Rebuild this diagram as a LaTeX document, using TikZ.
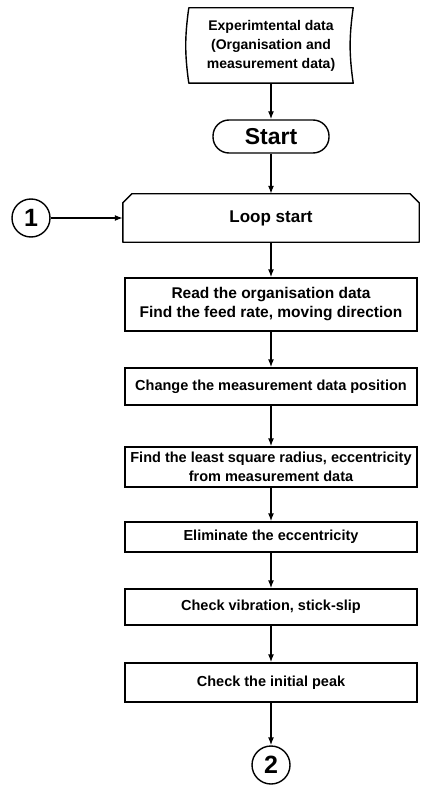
\documentclass[tikz,border=0pt]{standalone}
\usepackage{fontspec}
\setmainfont{Liberation Sans}
\usepackage{tikz}
\usetikzlibrary{arrows.meta}
\tikzset{box/.style = {shape = rectangle, draw, line width = 1.4pt, minimum width = 292pt, align = center, inner sep = 0pt, font = \fontsize{14.5}{19}\selectfont\bfseries}}
\tikzset{conn/.style = {-{Latex[length = 8pt, width = 6pt]}, line width = 1.4pt}}
\tikzset{connector/.style = {shape = circle, draw, line width = 1.4pt, minimum size = 38pt, inner sep = 0pt, font = \fontsize{25}{25}\selectfont\bfseries}}
\tikzset{outline/.style = {line width = 1.4pt, line join = round}}

\begin{document}
\begin{tikzpicture}[x = 1pt, y = -1pt]
	\useasboundingbox (0, 0) rectangle (421, 786);

	\node[align = center, minimum width = 164pt, minimum height = 75pt, font = \fontsize{14}{19}\selectfont\bfseries] (data) at (271, 45.5) {Experimtental data\\(Organisation and\\measurement data)};
	\draw[outline] (data.north west) to[bend right = 8] (data.south west) -- (data.south east) to[bend left = 8] (data.north east) -- cycle;

	\node[draw, line width = 1.4pt, rounded corners = 16pt, minimum width = 116pt, minimum height = 33pt, font = \fontsize{23}{23}\selectfont\bfseries] (start) at (271, 136.5) {Start};

	% loop limit: top corners cut off
	\node[minimum width = 296pt, minimum height = 48pt, inner sep = 0pt, font = \fontsize{17}{17}\selectfont\bfseries] (loop) at (271, 218) {Loop start};
	\draw[outline] ([yshift = -9pt]loop.north west) -- ([xshift = 9pt]loop.north west) -- ([xshift = -9pt]loop.north east) -- ([yshift = -9pt]loop.north east) -- (loop.south east) -- (loop.south west) -- cycle;
	\node[connector] (c1) at (31, 218) {1};

	\node[box, minimum height = 53pt, font = \fontsize{15.5}{19}\selectfont\bfseries] (read) at (271, 304.5) {Read the organisation data\\Find the feed rate, moving direction};
	\node[box, minimum height = 37pt] (change) at (271, 386.5) {Change the measurement data position};
	\node[box, minimum height = 40pt] (lsq) at (271, 467) {Find the least square radius, eccentricity\\from measurement data};
	\node[box, minimum height = 30pt] (elim) at (271, 537) {Eliminate the eccentricity};
	\node[box, minimum height = 36pt] (vib) at (271, 607) {Check vibration, stick-slip};
	\node[box, minimum height = 39pt] (peak) at (271, 682.5) {Check the initial peak};
	\node[connector] (c2) at (271, 765) {2};

	\draw[conn] (data) -- (start);
	\draw[conn] (start) -- (loop);
	\draw[conn] (c1) -- (loop);
	\draw[conn] (loop) -- (read);
	\draw[conn] (read) -- (change);
	\draw[conn] (change) -- (lsq);
	\draw[conn] (lsq) -- (elim);
	\draw[conn] (elim) -- (vib);
	\draw[conn] (vib) -- (peak);
	\draw[conn] (peak) -- (c2);
\end{tikzpicture}
\end{document}
